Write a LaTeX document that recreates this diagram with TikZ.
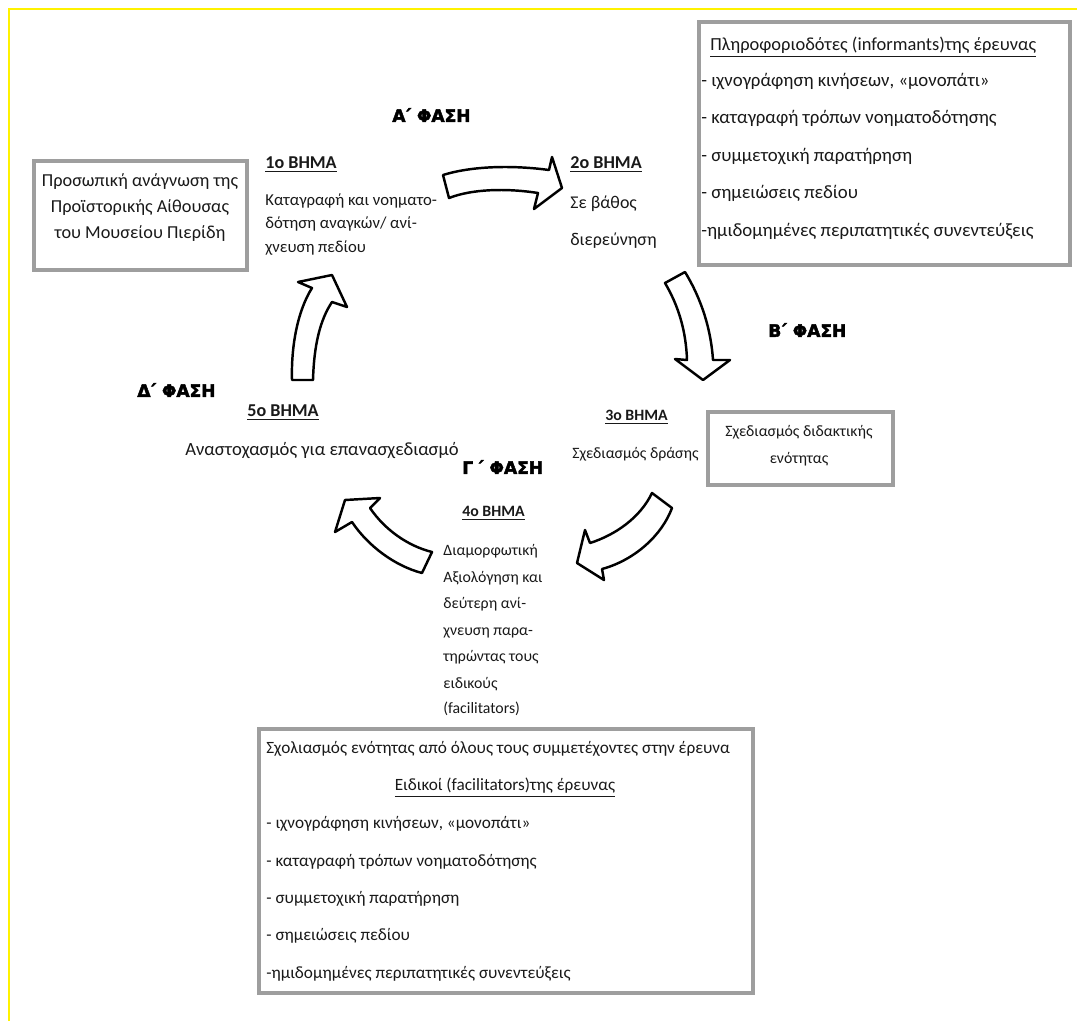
\documentclass[tikz,border=0pt]{standalone}
\usepackage{fontspec}
\setmainfont{Carlito}
\newfontfamily\heavyfont{DejaVu Sans Bold}[FakeBold=2.6]
\tikzset{
  frame/.style={draw=black!38, line width=2.2pt},
  txt/.style={inner sep=0pt, anchor=west, text=black!90,
    font=\fontsize{#1}{12}\selectfont, text height=6.5pt, text depth=2pt},
  txt/.default=9,
  ctxt/.style={txt=#1, anchor=center},
  ctxt/.default=9,
  stepname/.style={txt, font=\bfseries\fontsize{#1}{12}\selectfont},
  stepname/.default=9,
  phase/.style={inner sep=0pt, anchor=west, text=black,
    font=\heavyfont\fontsize{9.7}{11}\selectfont},
  blockarrow/.style={draw=black, line width=1.4pt, fill=white, line join=round},
}
\begin{document}
\begin{tikzpicture}[x=0.02cm, y=-0.02cm]
  \useasboundingbox (0,0) rectangle (1077,1021);
  \draw[yellow, line width=1.4pt] (9,1021) -- (9,9) -- (1077,9);

  % source box
  \draw[frame] (34,161) rectangle (247,270);
  \node[ctxt=10.4] (src1) at (140,183) {Προσωπική ανάγνωση της};
  \node[ctxt=10.4] (src2) at (140,209) {Προϊστορικής Αίθουσας};
  \node[ctxt=10.4] (src3) at (140,235) {του Μουσείου Πιερίδη};

  % informants box
  \draw[frame] (699,22) rectangle (1070,265);
  \node[txt=10.5] (inf) at (710,47) {\underline{Πληροφοριοδότες (informants)της έρευνας}};
  \foreach \y/\txt [count=\i] in {83/{- ιχνογράφηση κινήσεων, «μονοπάτι»},
      120/{- καταγραφή τρόπων νοηματοδότησης}, 158/{- συμμετοχική παρατήρηση},
      195/{- σημειώσεις πεδίου}, 233/{-ημιδομημένες περιπατητικές συνεντεύξεις}}
    \node[txt=10.7] (inf\i) at (701,\y) {\txt};

  % design box
  \draw[frame] (708,412) rectangle (893,485);
  \node[ctxt] (des1) at (799,433) {Σχεδιασμός διδακτικής};
  \node[ctxt] (des2) at (799,460) {ενότητας};

  % feedback box
  \draw[frame] (259,729) rectangle (753,993);
  \node[txt=9.8] (fb) at (266,750) {Σχολιασμός ενότητας από όλους τους συμμετέχοντες στην έρευνα};
  \node[ctxt=9.8] (fac) at (505,787) {\underline{Ειδικοί (facilitators)της έρευνας}};
  \foreach \y/\txt [count=\i] in {825/{- ιχνογράφηση κινήσεων, «μονοπάτι»},
      863/{- καταγραφή τρόπων νοηματοδότησης}, 900/{- συμμετοχική παρατήρηση},
      937/{- σημειώσεις πεδίου}, 975/{-ημιδομημένες περιπατητικές συνεντεύξεις}}
    \node[txt=9.8] (fac\i) at (266,\y) {\txt};

  % phases
  \node[phase] (phA) at (392,115) {Α\kern-0.12em΄ ΦΑΣΗ};
  \node[phase] (phB) at (768,330) {Β\kern-0.12em΄ ΦΑΣΗ};
  \node[phase] (phC) at (462,467) {Γ\,΄ ΦΑΣΗ};
  \node[phase] (phD) at (137,390) {Δ\kern-0.12em΄ ΦΑΣΗ};

  % steps
  \node[stepname=10.3] (st1) at (265,165) {\underline{1ο ΒΗΜΑ}};
  \node[txt=9.5] (st1a) at (265,202) {Καταγραφή και νοηματο-};
  \node[txt=9.5] (st1b) at (265,225) {δότηση αναγκών/ ανί-};
  \node[txt=9.5] (st1c) at (265,249) {χνευση πεδίου};
  \node[stepname=10.3] (st2) at (570,165) {\underline{2ο ΒΗΜΑ}};
  \node[txt=10.2] (st2a) at (570,205) {Σε βάθος};
  \node[txt=10.2] (st2b) at (570,242) {διερεύνηση};
  \node[stepname] (st3) at (605,417) {\underline{3ο ΒΗΜΑ}};
  \node[txt] (st3a) at (572,455) {Σχεδιασμός δράσης};
  \node[stepname] (st4) at (462,513) {\underline{4ο ΒΗΜΑ}};
  \foreach \y/\txt [count=\i] in {552/Διαμορφωτική, 579/Αξιολόγηση και,
      605/δεύτερη ανί-, 632/χνευση παρα-, 658/τηρώντας τους,
      685/ειδικούς, 710/(facilitators)}
    \node[txt] (st4\i) at (443,\y) {\txt};
  \node[stepname=10.3] (st5) at (247,413) {\underline{5ο ΒΗΜΑ}};
  \node[txt=10.6] (st5a) at (185,452) {Αναστοχασμός για επανασχεδιασμό};

  % block arrows
  \draw[blockarrow] (443,175) .. controls (472,166) and (512,165) .. (549,170)
    -- (552,157) -- (562,188) -- (534,209) -- (538,193)
    .. controls (506,188) and (472,189) .. (449,198) -- cycle;
  \draw[blockarrow] (665,283) -- (685,272) .. controls (702,300) and (711,330) .. (713,360)
    -- (730,360) -- (703,380) -- (675,359) -- (687,360)
    .. controls (686,330) and (678,305) .. (665,283) -- cycle;
  \draw[blockarrow] (652,493) -- (672,508) .. controls (662,535) and (635,560) .. (602,569)
    -- (604,580) -- (577,563) -- (585,530) -- (590,543)
    .. controls (615,535) and (640,518) .. (652,493) -- cycle;
  \draw[blockarrow] (422,573) -- (432,552) .. controls (408,546) and (385,530) .. (370,508)
    -- (380,498) -- (345,500) -- (335,532) -- (352,522)
    .. controls (368,546) and (395,566) .. (422,573) -- cycle;
  \draw[blockarrow] (292,380) -- (313,380) .. controls (314,345) and (320,320) .. (332,302)
    -- (347,307) -- (332,275) -- (298,282) -- (312,288)
    .. controls (298,310) and (291,345) .. (292,380) -- cycle;
\end{tikzpicture}
\end{document}
